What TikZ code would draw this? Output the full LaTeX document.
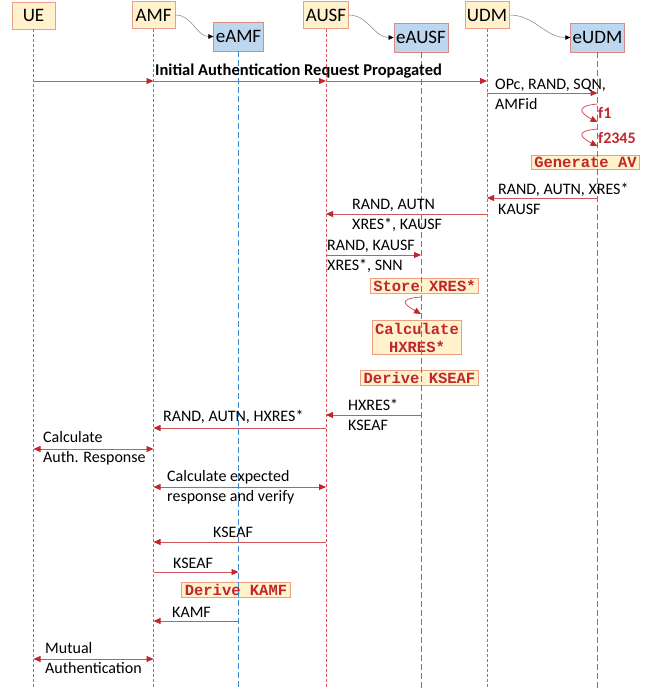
\documentclass[tikz,border=0pt]{standalone}
\usepackage{fontspec}
\setmainfont{Carlito}
\setmonofont{Liberation Mono}
\usetikzlibrary{arrows.meta}

\definecolor{actorfill}{HTML}{FFF2CC}
\definecolor{actorline}{HTML}{EA9E8C}
\definecolor{extfill}{HTML}{BDD7EE}
\definecolor{extline}{HTML}{D98A86}
\definecolor{lifered}{HTML}{E0525E}
\definecolor{lifeblue}{HTML}{3A8AD2}
\definecolor{msgred}{HTML}{D0575C}
\definecolor{headred}{HTML}{C0272D}
\definecolor{procline}{HTML}{EE9F80}

\begin{document}
\begin{tikzpicture}
		[x=1pt, y=-1pt,
		actor/.style={draw=actorline, fill=actorfill, line width=0.8pt, font=\fontsize{19}{22}\selectfont, minimum width=43pt, minimum height=27pt, inner sep=2pt},
		ext/.style={draw=extline, fill=extfill, line width=0.8pt, font=\fontsize{19}{22}\selectfont, minimum height=29pt, inner sep=2pt},
		life/.style={draw=lifered, line width=0.8pt, dash pattern=on 3pt off 2pt},
		elife/.style={draw=lifeblue, line width=1pt, dash pattern=on 6pt off 3pt},
		msg/.style={draw=msgred, line width=0.8pt, -{Triangle[length=7pt, width=6pt, fill=headred, color=headred]}},
		dmsg/.style={draw=msgred, line width=0.8pt, {Triangle[length=7pt, width=6pt, fill=headred, color=headred]}-{Triangle[length=7pt, width=6pt, fill=headred, color=headred]}},
		hop/.style={draw=gray, line width=0.5pt, -{Triangle[length=5pt, width=4.5pt, fill=black, color=black]}},
		lbl/.style={font=\fontsize{16}{20}\selectfont, align=left, inner sep=0pt},
		proc/.style={draw=procline, fill=actorfill, line width=0.8pt, text=headred, font=\fontsize{15.5}{18}\selectfont\ttfamily\bfseries, align=center, inner xsep=3pt, inner ysep=2pt},
		fn/.style={text=headred, font=\fontsize{16}{18}\selectfont\bfseries, anchor=west, inner sep=0pt}]
		\useasboundingbox (0,0) rectangle (652,689);
		\coordinate (bot) at (0,689);

		% participants
		\node[actor] (UE)   at (33.5,15.5) {UE};
		\node[actor] (AMF)  at (153.5,15) {AMF};
		\node[actor] (AUSF) at (326,15) {AUSF};
		\node[actor] (UDM)  at (487,15) {UDM};
		\node[ext] (eAMF)  at (238.5,36.5) {eAMF};
		\node[ext] (eAUSF) at (421,37.5) {eAUSF};
		\node[ext] (eUDM)  at (597.5,37.5) {eUDM};

		\draw[hop] (AMF.east) to[out=0, in=180] (eAMF.west);
		\draw[hop] (AUSF.east) to[out=0, in=180] (eAUSF.west);
		\draw[hop] (UDM.east) to[out=0, in=180] (eUDM.west);

		% processing steps
		\node[proc] (genav) at (585.5,162.5) {Generate AV};
		\node[proc] (store) at (424.5,286) {Store XRES*};
		\node[proc] (calc)  at (417,337.5) {Calculate\\HXRES*};
		\node[proc] (kseaf) at (419.5,378) {Derive KSEAF};
		\node[proc] (kamf)  at (236,590) {Derive KAMF};

		% lifelines
		\draw[life] (UE.south) -- (UE.south |- bot);
		\draw[life] (AMF.south) -- (AMF.south |- bot);
		\draw[life] (AUSF.south) -- (AUSF.south |- bot);
		\draw[life] (UDM.south) -- (UDM.south |- bot);
		\draw[elife] (eAMF.south) -- (eAMF.south |- bot);
		\draw[elife] (eAUSF.south) -- (eAUSF.south |- bot);
		\draw[elife] (eUDM.south) -- (eUDM.south |- bot);

		% messages
		\draw[msg] (UE |- 0,81) -- (AMF |- 0,81);
		\draw[msg] (AMF |- 0,81) -- (AUSF |- 0,81);
		\draw[msg] (AUSF |- 0,81) -- (UDM |- 0,81);
		\node[lbl, anchor=west, font=\fontsize{16.5}{18}\selectfont\bfseries] (m1) at (155,71) {Initial Authentication Request Propagated};

		\draw[msg] (UDM |- 0,93) -- (eUDM |- 0,93);
		\node[lbl, anchor=west] (m2) at (495,94.5) {OPc, RAND, SQN,\\AMFid};

		\draw[msg] (eUDM |- 0,104) .. controls +(-24,2) and +(-16,-8) .. (eUDM |- 0,122);
		\node[fn] (f1) at (598,113) {f1};
		\draw[msg] (eUDM |- 0,129) .. controls +(-24,2) and +(-16,-8) .. (eUDM |- 0,146);
		\node[fn] (f2) at (598,138) {f2345};

		\draw[msg] (eUDM |- 0,198) -- (UDM |- 0,198);
		\node[lbl, anchor=west] (m3) at (498,198.5) {RAND, AUTN, XRES*\\KAUSF};

		\draw[msg] (UDM |- 0,214) -- (AUSF |- 0,214);
		\node[lbl, anchor=west] (m4) at (352,215.5) {RAND, AUTN\\XRES*, KAUSF};

		\draw[msg] (AUSF |- 0,255) -- (eAUSF |- 0,255);
		\node[lbl, anchor=west] (m5) at (327,256) {RAND, KAUSF\\XRES*, SNN};

		\draw[msg] (eAUSF |- 0,297) .. controls +(-26,2) and +(-14,-8) .. (eAUSF |- 0,314);

		\draw[msg] (eAUSF |- 0,415) -- (AUSF |- 0,415);
		\node[lbl, anchor=west] (m6) at (348,414.5) {HXRES*\\KSEAF};

		\draw[msg] (AUSF |- 0,428) -- (AMF |- 0,428);
		\node[lbl, anchor=west] (m7) at (163,417) {RAND, AUTN, HXRES*};

		\draw[dmsg] (UE |- 0,449) -- (AMF |- 0,449);
		\node[lbl, anchor=west] (m8) at (43,448) {Calculate\\Auth. Response};

		\draw[dmsg] (AMF |- 0,487) -- (AUSF |- 0,487);
		\node[lbl, anchor=west] (m9) at (167,487) {Calculate expected\\response and verify};

		\draw[msg] (AUSF |- 0,542) -- (AMF |- 0,542);
		\node[lbl] (m10) at (233,532) {KSEAF};

		\draw[msg] (AMF |- 0,572) -- (eAMF |- 0,572);
		\node[lbl, anchor=west] (m11) at (173,563) {KSEAF};

		\draw[msg] (eAMF |- 0,621) -- (AMF |- 0,621);
		\node[lbl, anchor=west] (m12) at (172,612) {KAMF};

		\draw[dmsg] (UE |- 0,659) -- (AMF |- 0,659);
		\node[lbl, anchor=west] (m13) at (45,658) {Mutual\\Authentication};
		\end{tikzpicture}
\end{document}
